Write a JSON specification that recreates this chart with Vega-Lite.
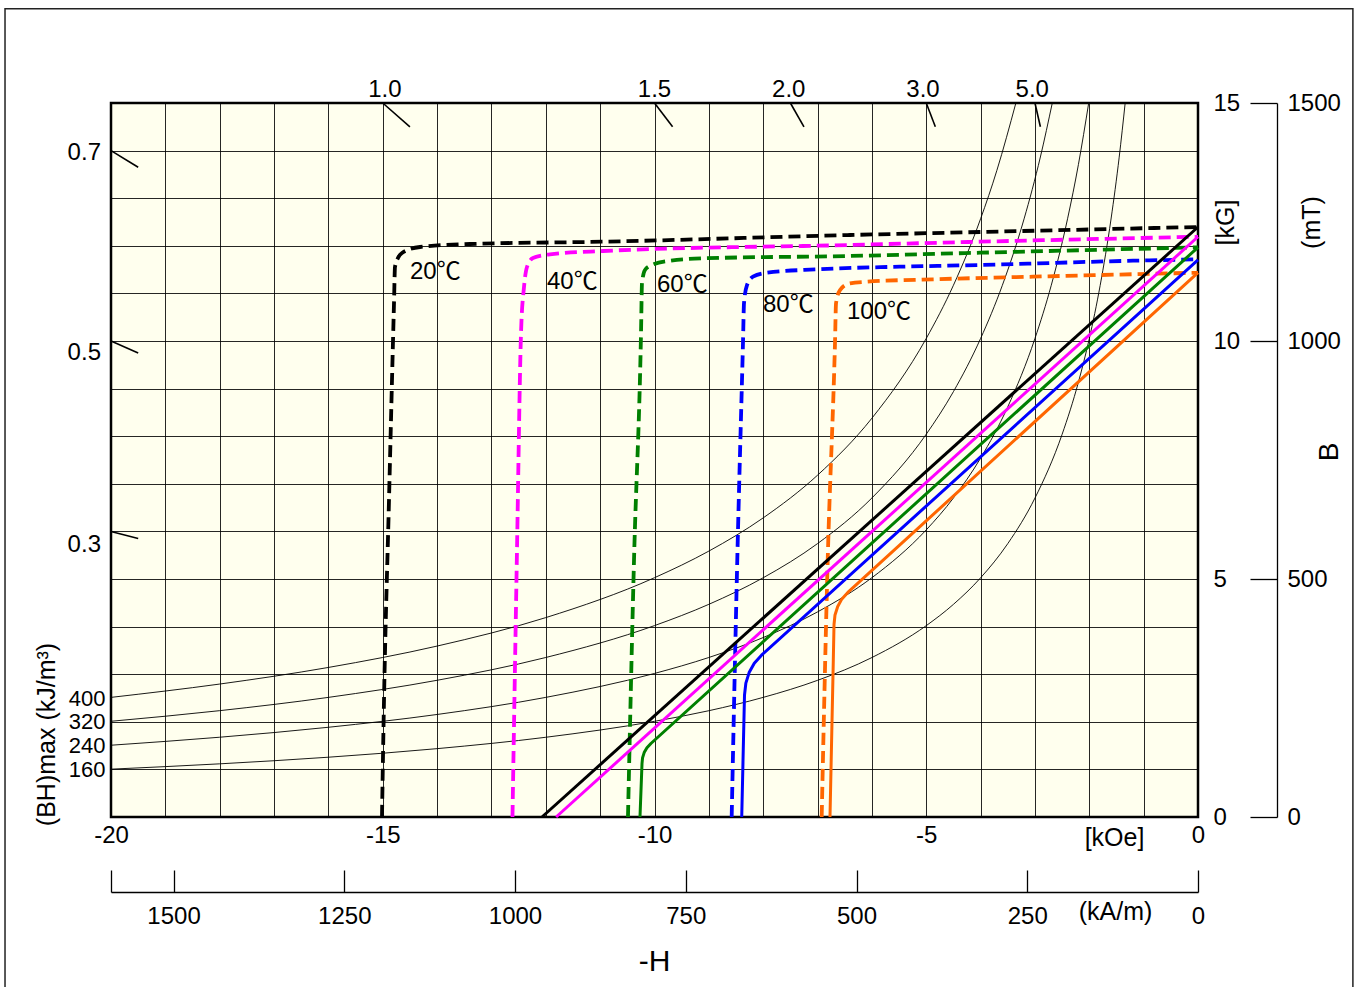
{
  "$schema": "https://vega.github.io/schema/vega-lite/v6.json",
  "width": 1087,
  "height": 714,
  "autosize": {"type": "none"},
  "padding": {"left": 111, "top": 103, "right": 161, "bottom": 170},
  "background": "#ffffff",
  "config": {
    "font": "Liberation Sans",
    "view": {"fill": "#ffffee", "stroke": "#000000", "strokeWidth": 2.5},
    "axis": {"labelFont": "Liberation Sans", "titleFont": "Liberation Sans", "labelColor": "#000", "titleColor": "#000", "labelFontSize": 24, "titleFontSize": 25, "titleFontWeight": "normal", "labelOverlap": false, "labelFlush": false}
  },
  "datasets": {
    "hyp": [
      {"E":"a","H":-20,"B":1.005},{"E":"a","H":-18,"B":1.117},{"E":"a","H":-16,"B":1.256},{"E":"a","H":-14,"B":1.436},{"E":"a","H":-12,"B":1.675},{"E":"a","H":-10,"B":2.01},{"E":"a","H":-9,"B":2.233},{"E":"a","H":-8,"B":2.513},{"E":"a","H":-7,"B":2.871},{"E":"a","H":-6,"B":3.35},{"E":"a","H":-5,"B":4.02},{"E":"a","H":-4.5,"B":4.467},{"E":"a","H":-4,"B":5.025},{"E":"a","H":-3.5,"B":5.743},{"E":"a","H":-3,"B":6.7},{"E":"a","H":-2.5,"B":8.04},{"E":"a","H":-2.2,"B":9.136},{"E":"a","H":-2,"B":10.05},{"E":"a","H":-1.8,"B":11.167},{"E":"a","H":-1.6,"B":12.563},{"E":"a","H":-1.45,"B":13.862},{"E":"a","H":-1.34,"B":15.0},
      {"E":"b","H":-20,"B":1.508},{"E":"b","H":-18,"B":1.676},{"E":"b","H":-16,"B":1.885},{"E":"b","H":-14,"B":2.154},{"E":"b","H":-12,"B":2.513},{"E":"b","H":-10,"B":3.016},{"E":"b","H":-9,"B":3.351},{"E":"b","H":-8,"B":3.77},{"E":"b","H":-7,"B":4.309},{"E":"b","H":-6,"B":5.027},{"E":"b","H":-5,"B":6.032},{"E":"b","H":-4.5,"B":6.702},{"E":"b","H":-4,"B":7.54},{"E":"b","H":-3.5,"B":8.617},{"E":"b","H":-3,"B":10.053},{"E":"b","H":-2.7,"B":11.17},{"E":"b","H":-2.4,"B":12.567},{"E":"b","H":-2.2,"B":13.709},{"E":"b","H":-2.011,"B":15.0},
      {"E":"c","H":-20,"B":2.011},{"E":"c","H":-18,"B":2.234},{"E":"c","H":-16,"B":2.513},{"E":"c","H":-14,"B":2.872},{"E":"c","H":-12,"B":3.351},{"E":"c","H":-10,"B":4.021},{"E":"c","H":-9,"B":4.468},{"E":"c","H":-8,"B":5.026},{"E":"c","H":-7,"B":5.744},{"E":"c","H":-6,"B":6.702},{"E":"c","H":-5,"B":8.042},{"E":"c","H":-4.5,"B":8.936},{"E":"c","H":-4,"B":10.053},{"E":"c","H":-3.6,"B":11.169},{"E":"c","H":-3.2,"B":12.566},{"E":"c","H":-2.9,"B":13.866},{"E":"c","H":-2.681,"B":15.0},
      {"E":"d","H":-20,"B":2.513},{"E":"d","H":-18,"B":2.793},{"E":"d","H":-16,"B":3.142},{"E":"d","H":-14,"B":3.591},{"E":"d","H":-12,"B":4.189},{"E":"d","H":-10,"B":5.027},{"E":"d","H":-9,"B":5.586},{"E":"d","H":-8,"B":6.284},{"E":"d","H":-7,"B":7.181},{"E":"d","H":-6,"B":8.378},{"E":"d","H":-5,"B":10.054},{"E":"d","H":-4.5,"B":11.171},{"E":"d","H":-4,"B":12.568},{"E":"d","H":-3.7,"B":13.586},{"E":"d","H":-3.351,"B":15.0}
    ],
    "J": [
      {"t":"20","H":0,"B":12.395},{"t":"20","H":-4.011,"B":12.29},{"t":"20","H":-6.4,"B":12.227},{"t":"20","H":-10.947,"B":12.086},{"t":"20","H":-13.395,"B":12.038},{"t":"20","H":-14.315,"B":11.975},{"t":"20","H":-14.646,"B":11.849},{"t":"20","H":-14.72,"B":11.744},{"t":"20","H":-14.775,"B":11.555},{"t":"20","H":-14.793,"B":10.798},{"t":"20","H":-14.885,"B":6.66},{"t":"20","H":-14.977,"B":2.458},{"t":"20","H":-15.014,"B":0},
      {"t":"40","H":0,"B":12.19},{"t":"40","H":-4.011,"B":12.086},{"t":"40","H":-6.4,"B":12.017},{"t":"40","H":-10.947,"B":11.891},{"t":"40","H":-11.923,"B":11.821},{"t":"40","H":-12.236,"B":11.744},{"t":"40","H":-12.346,"B":11.555},{"t":"40","H":-12.401,"B":11.134},{"t":"40","H":-12.456,"B":10.168},{"t":"40","H":-12.53,"B":5.61},{"t":"40","H":-12.613,"B":0},
      {"t":"60","H":0,"B":11.968},{"t":"60","H":-4.011,"B":11.855},{"t":"60","H":-6.4,"B":11.786},{"t":"60","H":-9.107,"B":11.737},{"t":"60","H":-9.715,"B":11.687},{"t":"60","H":-10.046,"B":11.597},{"t":"60","H":-10.175,"B":11.492},{"t":"60","H":-10.23,"B":11.218},{"t":"60","H":-10.248,"B":10.168},{"t":"60","H":-10.377,"B":5.399},{"t":"60","H":-10.488,"B":0},
      {"t":"80","H":0,"B":11.716},{"t":"80","H":-1.196,"B":11.687},{"t":"80","H":-4.011,"B":11.597},{"t":"80","H":-5.483,"B":11.561},{"t":"80","H":-7.01,"B":11.506},{"t":"80","H":-7.93,"B":11.435},{"t":"80","H":-8.188,"B":11.351},{"t":"80","H":-8.298,"B":11.176},{"t":"80","H":-8.353,"B":10.798},{"t":"80","H":-8.372,"B":9.958},{"t":"80","H":-8.477,"B":5.399},{"t":"80","H":-8.58,"B":0},
      {"t":"100","H":0,"B":11.435},{"t":"100","H":-3.036,"B":11.351},{"t":"100","H":-4.876,"B":11.296},{"t":"100","H":-6.09,"B":11.246},{"t":"100","H":-6.403,"B":11.212},{"t":"100","H":-6.587,"B":11.071},{"t":"100","H":-6.66,"B":10.792},{"t":"100","H":-6.679,"B":9.958},{"t":"100","H":-6.813,"B":5.399},{"t":"100","H":-6.924,"B":0}
    ],
    "Bn": [
      {"t":"20","H":0,"B":12.395},{"t":"20","H":-12.07,"B":0},
      {"t":"40","H":0,"B":12.19},{"t":"40","H":-11.81,"B":0},
      {"t":"60","H":0,"B":11.968},{"t":"60","H":-10.066,"B":1.544},{"t":"60","H":-10.139,"B":1.454},{"t":"60","H":-10.19,"B":1.353},{"t":"60","H":-10.22,"B":1.242},{"t":"60","H":-10.23,"B":1.122},{"t":"60","H":-10.267,"B":0},
      {"t":"80","H":0,"B":11.702},{"t":"80","H":-8.031,"B":3.399},{"t":"80","H":-8.164,"B":3.231},{"t":"80","H":-8.259,"B":3.034},{"t":"80","H":-8.319,"B":2.813},{"t":"80","H":-8.344,"B":2.563},{"t":"80","H":-8.395,"B":0},
      {"t":"100","H":0,"B":11.435},{"t":"100","H":-6.443,"B":4.718},{"t":"100","H":-6.552,"B":4.582},{"t":"100","H":-6.629,"B":4.423},{"t":"100","H":-6.679,"B":4.244},{"t":"100","H":-6.697,"B":4.044},{"t":"100","H":-6.71,"B":3.298},{"t":"100","H":-6.771,"B":0}
    ],
    "pticks": [
      {"H":-15,"B":15,"H2":-14.5,"B2":14.5},
      {"H":-10,"B":15,"H2":-9.667,"B2":14.5},
      {"H":-7.5,"B":15,"H2":-7.25,"B2":14.5},
      {"H":-5,"B":15,"H2":-4.833,"B2":14.5},
      {"H":-3,"B":15,"H2":-2.9,"B2":14.5},
      {"H":-20,"B":14,"H2":-19.5,"B2":13.65},
      {"H":-20,"B":10,"H2":-19.5,"B2":9.75},
      {"H":-20,"B":6,"H2":-19.5,"B2":5.85}
    ]
  },
  "layer": [
    {
      "encoding": {
        "x": {"field": "H", "type": "quantitative", "scale": {"domain": [-20, 0], "nice": false, "zero": false},
          "axis": {"orient": "bottom", "values": [-20,-19,-18,-17,-16,-15,-14,-13,-12,-11,-10,-9,-8,-7,-6,-5,-4,-3,-2,-1,0],
            "labelExpr": "datum.value % 5 === 0 ? (datum.value === 0 ? '0' : '-' + abs(datum.value)) : ''",
            "grid": true, "gridColor": "#000", "gridOpacity": 0.85, "gridWidth": 1, "ticks": false, "domain": false,
            "labelPadding": 6, "title": "[kOe]", "titleX": 1003, "titleY": 20, "titleAlign": "center", "titleBaseline": "middle", "titleAngle": 0}},
        "y": {"field": "B", "type": "quantitative", "scale": {"domain": [0, 15], "nice": false, "zero": false},
          "axis": {"orient": "right", "values": [0,1,2,3,4,5,6,7,8,9,10,11,12,13,14,15],
            "labelExpr": "datum.value % 5 === 0 ? '' + datum.value : ''",
            "grid": true, "gridColor": "#000", "gridOpacity": 0.85, "gridWidth": 1, "ticks": false, "domain": false,
            "labelPadding": 15, "labelAlign": "left", "labelBaseline": "middle",
            "title": "[kG]", "titleX": 27, "titleY": 119, "titleAngle": 270, "titleAlign": "center", "titleBaseline": "middle"}}
      },
      "layer": [
        {"data": {"name": "hyp"}, "mark": {"type": "line", "stroke": "#000", "strokeWidth": 0.9, "interpolate": "monotone", "clip": true}, "encoding": {"detail": {"field": "E"}}},
        {"data": {"name": "pticks"}, "mark": {"type": "rule", "stroke": "#000", "strokeWidth": 1.6}, "encoding": {"x2": {"field": "H2"}, "y2": {"field": "B2"}}},
        {"data": {"name": "J"}, "mark": {"type": "line", "strokeWidth": 3.8, "strokeDash": [12, 6], "interpolate": "monotone"},
          "encoding": {"color": {"field": "t", "type": "nominal", "scale": {"domain": ["20","40","60","80","100"], "range": ["#000000","#ff00ff","#008000","#0000ff","#ff6600"]}, "legend": null}}},
        {"data": {"name": "Bn"}, "mark": {"type": "line", "strokeWidth": 3, "interpolate": "linear", "strokeJoin": "round"},
          "encoding": {"color": {"field": "t", "type": "nominal", "scale": {"domain": ["20","40","60","80","100"], "range": ["#000000","#ff00ff","#008000","#0000ff","#ff6600"]}, "legend": null}}},
        {"data": {"values": [
            {"H": -14.499, "B": 11.456, "label": "20℃"},
            {"H": -11.978, "B": 11.246, "label": "40℃"},
            {"H": -9.954, "B": 11.176, "label": "60℃"},
            {"H": -8.004, "B": 10.756, "label": "80℃"},
            {"H": -6.458, "B": 10.616, "label": "100℃"}]},
          "mark": {"type": "text", "align": "left", "baseline": "middle", "fontSize": 24, "font": "Liberation Sans, Noto Sans CJK JP", "color": "#000"},
          "encoding": {"text": {"field": "label"}}},
        {"data": {"values": [
            {"H": -14.96, "B": 15.27, "label": "1.0"},
            {"H": -10.0, "B": 15.27, "label": "1.5"},
            {"H": -7.53, "B": 15.27, "label": "2.0"},
            {"H": -5.06, "B": 15.27, "label": "3.0"},
            {"H": -3.05, "B": 15.27, "label": "5.0"}]},
          "mark": {"type": "text", "align": "center", "baseline": "middle", "fontSize": 24, "color": "#000"},
          "encoding": {"text": {"field": "label"}}},
        {"data": {"values": [
            {"H": -20.184, "B": 13.95, "label": "0.7"},
            {"H": -20.184, "B": 9.748, "label": "0.5"},
            {"H": -20.184, "B": 5.714, "label": "0.3"}]},
          "mark": {"type": "text", "align": "right", "baseline": "middle", "fontSize": 24, "color": "#000"},
          "encoding": {"text": {"field": "label"}}},
        {"data": {"values": [{"H": -10, "B": -3.046, "label": "-H"}]},
          "mark": {"type": "text", "align": "center", "baseline": "middle", "fontSize": 30, "color": "#000"},
          "encoding": {"text": {"field": "label"}}},
        {"data": {"values": [{"H": 2.43, "B": 7.67, "label": "B"}]},
          "mark": {"type": "text", "align": "center", "baseline": "middle", "fontSize": 28, "angle": 270, "color": "#000"},
          "encoding": {"text": {"field": "label"}}},
        {"data": {"values": [{"H": -21.95, "B": 16.98, "H2": 2.85, "B2": -3.9}]},
          "mark": {"type": "rect", "fillOpacity": 0, "stroke": "#222", "strokeWidth": 1.5},
          "encoding": {"x2": {"field": "H2"}, "y2": {"field": "B2"}}}
      ]
    },
    {
      "data": {"values": [{"B": 0}, {"B": 15}]},
      "mark": {"type": "rule", "strokeOpacity": 0},
      "encoding": {"y": {"field": "B", "type": "quantitative", "scale": {"domain": [0, 15], "nice": false, "zero": false},
        "axis": {"orient": "left", "values": [1, 1.5, 2, 2.5], "labelExpr": "format(datum.value * 160, 'd')", "ticks": false, "domain": false, "grid": false,
          "labelPadding": 6, "labelFontSize": 22, "labelBaseline": "middle",
          "title": "(BH)max (kJ/m³)", "titleX": -65, "titleY": 631, "titleAngle": 270, "titleAlign": "center", "titleBaseline": "middle", "titleFontSize": 25}}}
    },
    {
      "data": {"values": [{"k": 0}, {"k": 1591.55}]},
      "mark": {"type": "rule", "strokeOpacity": 0},
      "encoding": {"x": {"field": "k", "type": "quantitative", "scale": {"domain": [1591.55, 0], "nice": false, "zero": false},
        "axis": {"orient": "bottom", "offset": 75, "values": [0, 250, 500, 750, 1000, 1250, 1500, 1591.55],
          "labelExpr": "datum.value > 1550 ? '' : format(datum.value, 'd')", "grid": false,
          "tickSize": -22, "tickColor": "#000", "tickWidth": 1.3, "domainColor": "#000", "domainWidth": 1.3,
          "labelPadding": 34, "title": "(kA/m)", "titleX": 1004, "titleY": 19, "titleAlign": "center", "titleBaseline": "middle", "titleAngle": 0}}}
    },
    {
      "data": {"values": [{"m": 0}, {"m": 1500}]},
      "mark": {"type": "rule", "strokeOpacity": 0},
      "encoding": {"y": {"field": "m", "type": "quantitative", "scale": {"domain": [0, 1500], "nice": false, "zero": false},
        "axis": {"orient": "right", "offset": 79, "values": [0, 500, 1000, 1500], "labelExpr": "format(datum.value, 'd')", "grid": false,
          "tickSize": -27, "tickColor": "#000", "tickWidth": 1.3, "domainColor": "#000", "domainWidth": 1.3,
          "labelPadding": 37, "labelAlign": "left", "labelBaseline": "middle",
          "title": "(mT)", "titleX": 34, "titleY": 119, "titleAngle": 270, "titleAlign": "center", "titleBaseline": "middle"}}}
    }
  ],
  "resolve": {"scale": {"x": "independent", "y": "independent"}, "axis": {"x": "independent", "y": "independent"}}
}
